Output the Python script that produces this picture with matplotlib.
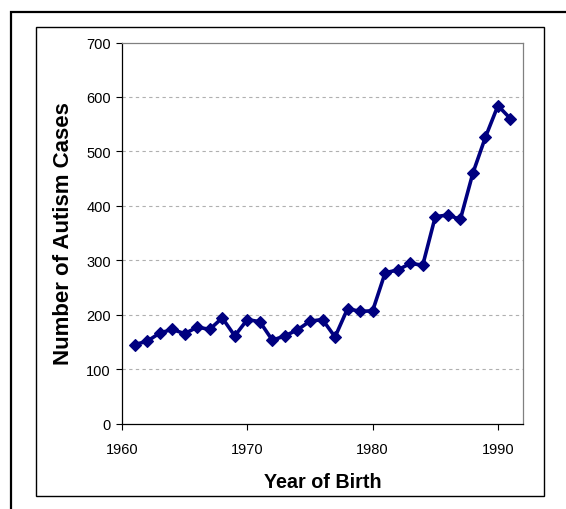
import matplotlib
matplotlib.use("Agg")
import matplotlib.pyplot as plt
from matplotlib.patches import Rectangle

years = list(range(1961, 1992))
cases = [145, 151, 166, 173, 165, 177, 173, 194, 161, 191,
         187, 153, 161, 172, 188, 191, 159, 211, 206, 207,
         277, 282, 294, 291, 380, 383, 375, 460, 526, 584, 560]
x_ticks = [1960, 1970, 1980, 1990]
y_ticks = [0, 100, 200, 300, 400, 500, 600, 700]

plt.rcParams['font.family'] = ['Liberation Sans', 'DejaVu Sans']

W, H = 566, 510
fig = plt.figure(figsize=(W / 100, H / 100), dpi=100)
fig.patch.set_facecolor('white')

# frames
fig.patches.append(Rectangle((11 / W, -0.1), 1.2, 1 - 13 / H + 0.1,
                             transform=fig.transFigure, fill=False,
                             edgecolor='black', linewidth=1.6, zorder=0))
fig.patches.append(Rectangle((36 / W, 1 - 497 / H), (544 - 36) / W, (497 - 28) / H,
                             transform=fig.transFigure, fill=False,
                             edgecolor='black', linewidth=1.0, zorder=0))

ax = fig.add_axes([122 / W, 1 - 424.5 / H, (523 - 122) / W, (424.5 - 43.5) / H])
ax.plot(years, cases, color='#000080', linewidth=2.6, marker='D',
        markersize=6, markeredgewidth=0.8, markerfacecolor='#000080', zorder=3)

ax.set_xlim(1960, 1992)
ax.set_ylim(0, 700)
ax.set_xticks(x_ticks)
ax.set_yticks(y_ticks)
ax.tick_params(axis='both', labelsize=10.5, direction='out', length=4, width=0.8,
               color='black', pad=4)
ax.tick_params(axis='x', pad=9)
for y in y_ticks[1:-1]:
    ax.axhline(y, color='#b0b0b0', linewidth=0.8, linestyle=(0, (3, 3)), zorder=1)

ax.spines['left'].set_color('black')
ax.spines['bottom'].set_color('black')
ax.spines['top'].set_color('#808080')
ax.spines['right'].set_color('#808080')
for s in ax.spines.values():
    s.set_linewidth(0.9)

ax.set_xlabel('Year of Birth', fontsize=14.2, fontweight='bold', labelpad=12)
ax.set_ylabel('Number of Autism Cases', fontsize=16, fontweight='bold', labelpad=9)

fig.savefig('out.png', dpi=100)
